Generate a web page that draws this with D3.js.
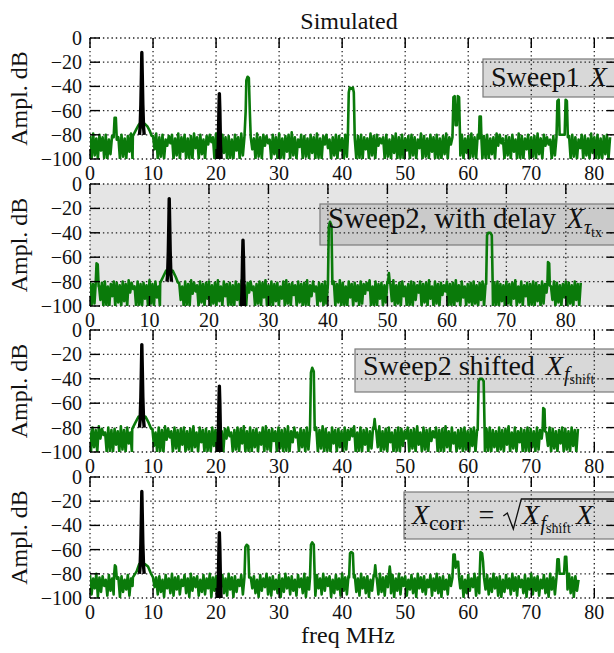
<!DOCTYPE html>
<html>
<head>
<meta charset="utf-8">
<script src="https://cdn.jsdelivr.net/npm/d3@7"></script>
<style>
  html, body { margin: 0; padding: 0; background: #fff; }
  svg { display: block; }
  text { font-family: "Liberation Serif", "DejaVu Serif", serif; fill: #111; }
</style>
</head>
<body>
<svg id="chart" width="614" height="653"></svg>
<script>
// ---------------- DATA ----------------
const titleText = "Simulated";
const xLabelText = "freq MHz";
const yLabelText = "Ampl. dB";
const xTickValues = [0, 10, 20, 30, 40, 50, 60, 70, 80];
const yTickValues = [0, -20, -40, -60, -80, -100];
const noiseStepMHz = 0.25;
const shiftMHz = 5.1; // Sweep2 shifted = Sweep2 (with delay) moved down in frequency

// Noise floor samples (dB), every 0.25 MHz from 0 MHz
const noiseSweep1 = [
 -81,-100,-79,-97,-83,-100,-80,-93,-82,-99,-80,-100,-84,-96,-81,-100,-79,-88,-82,-100,
 -80,-98,-83,-100,-81,-94,-79,-100,-84,-99,-80,-100,-82,-95,-81,-100,-80,-97,-83,-100,
 -81,-92,-79,-100,-82,-98,-80,-100,-84,-89,-81,-87,-80,-100,-83,-97,-79,-100,-82,-94,
 -80,-100,-83,-99,-81,-100,-79,-91,-82,-100,-80,-96,-84,-100,-81,-88,-80,-86,-82,-100,
 -79,-98,-83,-100,-80,-95,-82,-100,-81,-99,-84,-100,-80,-93,-82,-100,-79,-97,-83,-100,
 -81,-100,-80,-92,-83,-100,-79,-98,-82,-100,-80,-89,-81,-87,-84,-100,-80,-96,-82,-100,
 -79,-99,-83,-100,-81,-94,-80,-100,-78,-97,-82,-100,-84,-90,-80,-100,-81,-98,-83,-100,
 -80,-95,-82,-100,-79,-99,-83,-100,-81,-88,-80,-91,-84,-100,-82,-97,-80,-100,-81,-93,
 -83,-100,-80,-98,-82,-100,-79,-96,-84,-100,-81,-99,-80,-100,-82,-92,-83,-100,-79,-97,
 -81,-100,-80,-89,-83,-87,-82,-100,-80,-98,-84,-100,-81,-95,-79,-100,-82,-99,-80,-100,
 -83,-93,-81,-100,-80,-97,-82,-100,-84,-91,-79,-100,-81,-98,-83,-100,-80,-94,-82,-100,
 -80,-99,-83,-100,-81,-96,-79,-100,-82,-88,-80,-90,-84,-100,-81,-97,-80,-100,-83,-95,
 -81,-100,-79,-98,-82,-100,-80,-93,-84,-100,-81,-99,-80,-100,-83,-96,-82,-100,-79,-89,
 -80,-87,-83,-100,-81,-97,-82,-100,-80,-94,-84,-100,-79,-99,-81,-100,-83,-92,-80,-100,
 -82,-98,-81,-100,-79,-96,-83,-100,-80,-89,-82,-88,-84,-100,-81,-97,-80,-100,-82,-99,
 -79,-100,-83,-94,-81,-100,-80,-98,-82,-100,-84,-91,-80,-100,-81,-97,-83,-100,-79,-95,
 -82,-100,-80,-99,-83,-100,-81,-96,-80,-100,-82
];
const noiseSweep2 = [
 -80,-100,-82,-98,-79,-100,-83,-95,-81,-100,-80,-99,-84,-100,-82,-92,-80,-100,-81,-97,
 -83,-100,-80,-96,-82,-100,-79,-89,-81,-86,-84,-100,-80,-99,-82,-100,-81,-94,-83,-100,
 -79,-98,-82,-100,-80,-93,-84,-100,-81,-97,-80,-100,-83,-91,-79,-100,-82,-98,-80,-100,
 -81,-95,-84,-100,-80,-99,-82,-100,-79,-90,-81,-88,-83,-100,-80,-97,-82,-100,-81,-94,
 -80,-100,-83,-98,-81,-100,-79,-96,-84,-100,-80,-92,-82,-100,-81,-99,-83,-100,-80,-95,
 -82,-100,-79,-97,-83,-100,-81,-89,-80,-87,-84,-100,-82,-98,-80,-100,-81,-93,-79,-100,
 -83,-99,-80,-100,-82,-96,-81,-100,-84,-94,-80,-100,-79,-98,-82,-100,-81,-91,-83,-100,
 -80,-97,-82,-100,-81,-99,-79,-100,-83,-92,-80,-88,-84,-100,-81,-96,-82,-100,-80,-98,
 -81,-100,-83,-95,-80,-100,-82,-97,-79,-100,-81,-99,-84,-100,-80,-93,-82,-100,-81,-96,
 -83,-100,-80,-98,-82,-90,-81,-87,-79,-100,-84,-99,-80,-100,-82,-94,-81,-100,-83,-97,
 -80,-100,-82,-96,-79,-100,-83,-98,-81,-100,-80,-92,-84,-100,-82,-99,-80,-100,-81,-95,
 -83,-89,-80,-100,-82,-97,-81,-100,-79,-94,-84,-100,-80,-98,-82,-100,-81,-91,-83,-88,
 -80,-100,-82,-99,-81,-100,-79,-96,-83,-100,-80,-93,-84,-100,-82,-97,-81,-100,-80,-98,
 -83,-100,-81,-95,-80,-100,-82,-90,-79,-87,-84,-100,-81,-99,-80,-100,-82,-96,-83,-100,
 -80,-98,-82,-100,-81,-94,-79,-100,-84,-97,-80,-100,-83,-92,-81,-100,-82,-99,-80,-100,
 -81,-96,-83,-100,-80,-98,-82,-89,-79,-100,-84,-95,-80,-100,-81,-97,-83,-100,-82,-93,
 -80,-100,-81,-98,-83,-100,-80,-95,-82,-100,-81
];
const noiseCorr = [
 -81,-97,-84,-92,-80,-99,-83,-95,-82,-90,-85,-98,-81,-94,-84,-97,-80,-91,-83,-99,
 -82,-95,-85,-93,-81,-98,-84,-90,-80,-96,-83,-99,-82,-92,-85,-97,-81,-94,-84,-98,
 -80,-91,-83,-97,-82,-95,-85,-99,-81,-92,-84,-96,-80,-98,-83,-93,-82,-97,-85,-90,
 -81,-96,-84,-99,-80,-94,-83,-91,-82,-98,-85,-95,-81,-97,-84,-92,-80,-99,-83,-94,
 -82,-97,-85,-91,-81,-96,-84,-98,-80,-93,-83,-99,-82,-95,-85,-90,-81,-97,-84,-94,
 -80,-98,-83,-92,-82,-96,-85,-99,-81,-94,-84,-91,-80,-97,-83,-98,-82,-93,-85,-96,
 -81,-99,-84,-95,-80,-92,-83,-97,-82,-94,-85,-98,-81,-91,-84,-96,-80,-99,-83,-93,
 -82,-95,-85,-98,-81,-92,-84,-97,-80,-94,-83,-90,-82,-99,-85,-96,-81,-93,-84,-98,
 -80,-94,-83,-97,-82,-91,-85,-99,-81,-95,-84,-98,-80,-92,-83,-96,-82,-99,-85,-94,
 -81,-92,-84,-97,-80,-95,-83,-98,-82,-91,-85,-96,-81,-99,-84,-94,-80,-97,-83,-90,
 -82,-98,-85,-93,-81,-96,-84,-99,-80,-92,-83,-95,-82,-97,-85,-91,-81,-98,-84,-94,
 -80,-96,-83,-99,-82,-93,-85,-97,-81,-90,-84,-98,-80,-95,-83,-92,-82,-99,-85,-96,
 -81,-94,-84,-91,-80,-98,-83,-96,-82,-99,-85,-93,-81,-97,-84,-95,-80,-92,-83,-98,
 -82,-99,-85,-95,-81,-92,-84,-97,-80,-94,-83,-98,-82,-91,-85,-96,-81,-99,-84,-93,
 -80,-97,-83,-94,-82,-98,-85,-92,-81,-96,-84,-99,-80,-93,-83,-97,-82,-95,-85,-91,
 -81,-98,-84,-93,-80,-96,-83,-99,-82,-94,-85
];

// Spectral lines on the green traces: [freq MHz, dB] points
const linesSweep1 = [
 [[3.75,-82],[3.9,-66],[4.1,-66],[4.25,-84]],
 [[6.8,-81],[7.3,-76],[7.7,-72],[8.0,-70],[8.3,-74],[8.7,-71],[9.1,-73],[9.5,-77],[9.8,-81]],
 [[24.5,-82],[24.7,-60],[24.8,-35],[25.0,-32],[25.2,-33],[25.35,-60],[25.5,-82]],
 [[40.9,-83],[41.05,-45],[41.2,-41],[41.45,-42],[41.7,-41],[41.85,-45],[42.0,-83]],
 [[57.5,-82],[57.65,-49],[57.85,-48],[58.0,-72],[58.2,-72],[58.35,-48],[58.55,-49],[58.7,-82]],
 [[61.7,-83],[61.8,-65],[62.0,-65],[62.1,-84]],
 [[74.0,-82],[74.15,-52],[74.35,-51],[74.5,-80],[75.3,-80],[75.45,-51],[75.65,-52],[75.8,-82]]
];
const linesSweep2 = [
 [[0.95,-82],[1.1,-65],[1.3,-66],[1.45,-84]],
 [[11.8,-81],[12.3,-76],[12.8,-71],[13.1,-72],[13.5,-73],[13.9,-71],[14.4,-76],[14.8,-81]],
 [[40.0,-82],[40.15,-35],[40.35,-31],[40.6,-34],[40.75,-82]],
 [[50.1,-81],[50.25,-73],[50.4,-81]],
 [[66.6,-82],[66.75,-42],[66.95,-40],[67.3,-40],[67.55,-42],[67.7,-82]],
 [[76.9,-82],[77.0,-64],[77.2,-65],[77.3,-83]]
];
const linesCorr = [
 [[3.8,-83],[3.95,-73],[4.1,-74],[4.25,-84]],
 [[6.8,-83],[7.4,-78],[7.8,-72],[8.3,-73],[8.7,-72],[9.2,-74],[9.6,-79],[10.0,-83]],
 [[24.5,-83],[24.65,-58],[24.85,-56],[25.1,-57],[25.25,-83]],
 [[34.9,-83],[35.05,-56],[35.25,-54],[35.5,-56],[35.65,-83]],
 [[41.1,-83],[41.25,-63],[41.45,-62],[41.7,-63],[41.85,-83]],
 [[45.1,-82],[45.25,-73],[45.4,-82]],
 [[47.4,-82],[47.55,-74],[47.7,-82]],
 [[57.5,-83],[57.65,-64],[57.85,-64],[58.0,-75],[58.2,-70],[58.4,-70],[58.55,-83]],
 [[61.8,-83],[61.95,-62],[62.2,-63],[62.35,-70],[62.5,-83]],
 [[74.0,-83],[74.15,-68],[74.35,-68],[74.5,-80],[75.2,-80],[75.35,-66],[75.55,-66],[75.7,-83]]
];

// Black reference tones
const toneRef = [
 [[7.85,-80],[7.95,-74],[8.07,-55],[8.16,-30],[8.22,-12],[8.29,-30],[8.38,-55],[8.5,-74],[8.6,-80]],
 [[20.25,-101],[20.35,-88],[20.45,-60],[20.52,-46],[20.6,-60],[20.7,-88],[20.8,-101]]
];
const toneDelayed = [
 [[12.95,-80],[13.05,-74],[13.17,-55],[13.26,-30],[13.32,-12],[13.39,-30],[13.48,-55],[13.6,-74],[13.7,-80]],
 [[25.45,-101],[25.55,-88],[25.65,-60],[25.72,-46],[25.8,-60],[25.9,-88],[26.0,-101]]
];

// ---------------- LAYOUT ----------------
const W = 614, H = 653;
const left = 90, right = 617;
const panels = [
  { top: 38,  bottom: 159, xmax: 83.6, bg: null,      legend: { x: 483, y: 59,  h: 38, tx: 491, ty: 86 } },
  { top: 184, bottom: 306, xmax: 88.6, bg: "#e5e5e5", legend: { x: 320, y: 204, h: 41, tx: 328, ty: 228 } },
  { top: 330, bottom: 452, xmax: 83.6, bg: null,      legend: { x: 355, y: 349, h: 43, tx: 363, ty: 375 } },
  { top: 477, bottom: 598, xmax: 83.6, bg: null,      legend: { x: 404, y: 492, h: 47, tx: 412, ty: 524 } }
];
const GREEN = "#0a7a0a";

function buildSeries(noise, lines) {
  let pts = noise.map((v, i) => [i * noiseStepMHz, v]);
  lines.forEach(l => {
    const f0 = l[0][0], f1 = l[l.length - 1][0];
    pts = pts.filter(p => p[0] < f0 || p[0] > f1).concat(l);
  });
  return pts.sort((a, b) => a[0] - b[0]);
}
const green1 = buildSeries(noiseSweep1, linesSweep1);
const green2 = buildSeries(noiseSweep2, linesSweep2);
const green3 = green2.map(p => [p[0] - shiftMHz, p[1]]).filter(p => p[0] >= -0.6);
const green4 = buildSeries(noiseCorr, linesCorr);
const greens = [green1, green2, green3, green4];
const blacks = [toneRef, toneDelayed, toneRef, toneRef];

const svg = d3.select("#chart");
svg.append("rect").attr("width", W).attr("height", H).attr("fill", "#fff");
const defs = svg.append("defs");

function italic(t, s, size, dy) {
  const ts = t.append("tspan").attr("font-style", "italic").text(s);
  if (size) ts.attr("font-size", size);
  if (dy) ts.attr("dy", dy);
  return ts;
}
function roman(t, s, size, dy) {
  const ts = t.append("tspan").text(s);
  if (size) ts.attr("font-size", size);
  if (dy) ts.attr("dy", dy);
  return ts;
}

panels.forEach((p, i) => {
  const x = d3.scaleLinear().domain([0, p.xmax]).range([left, right]);
  const y = d3.scaleLinear().domain([-100, 0]).range([p.bottom, p.top]);
  const g = svg.append("g");
  const clipId = "clip" + i;
  defs.append("clipPath").attr("id", clipId).append("rect")
    .attr("x", left).attr("y", p.top).attr("width", right - left).attr("height", p.bottom - p.top);

  if (p.bg) g.append("rect").attr("x", left).attr("y", p.top).attr("width", right - left)
      .attr("height", p.bottom - p.top).attr("fill", p.bg);

  // legend box (semi transparent)
  g.append("rect").attr("x", p.legend.x).attr("y", p.legend.y).attr("width", 300).attr("height", p.legend.h)
    .attr("fill", "#a8a8a8").attr("fill-opacity", 0.45).attr("stroke", "#7a7a7a").attr("stroke-width", 1.2);

  // grid
  const grid = g.append("g").attr("stroke", "#222").attr("stroke-width", 1.3).attr("stroke-dasharray", "1.4,2.9");
  xTickValues.forEach(v => grid.append("line").attr("x1", x(v)).attr("x2", x(v)).attr("y1", p.top).attr("y2", p.bottom));
  yTickValues.forEach(v => grid.append("line").attr("x1", left).attr("x2", right).attr("y1", y(v)).attr("y2", y(v)));

  // data
  const line = d3.line().x(d => x(d[0])).y(d => y(d[1]));
  const data = g.append("g").attr("clip-path", `url(#${clipId})`);
  data.append("path").attr("d", line(greens[i])).attr("fill", "none").attr("stroke", GREEN)
    .attr("stroke-width", 2.6).attr("stroke-linejoin", "round");
  blacks[i].forEach(t => data.append("path").attr("d", line(t)).attr("fill", "none")
    .attr("stroke", "#000").attr("stroke-width", 3.4).attr("stroke-linejoin", "round"));

  // ticks (inward, all sides)
  const tk = g.append("g").attr("stroke", "#000").attr("stroke-width", 1.4);
  const L = 10;
  yTickValues.forEach(v => {
    tk.append("line").attr("x1", left).attr("x2", left + L).attr("y1", y(v)).attr("y2", y(v));
    tk.append("line").attr("x1", right - L).attr("x2", right).attr("y1", y(v)).attr("y2", y(v));
  });
  xTickValues.forEach(v => {
    tk.append("line").attr("x1", x(v)).attr("x2", x(v)).attr("y1", p.top).attr("y2", p.top + L);
    tk.append("line").attr("x1", x(v)).attr("x2", x(v)).attr("y1", p.bottom - L).attr("y2", p.bottom);
  });

  // tick labels
  yTickValues.forEach(v => g.append("text").attr("x", 82).attr("y", y(v)).attr("dy", "0.35em")
    .attr("text-anchor", "end").attr("font-size", 20).text(v < 0 ? "\u2212" + Math.abs(v) : String(v)));
  xTickValues.forEach(v => g.append("text").attr("x", x(v)).attr("y", p.bottom + 21)
    .attr("text-anchor", "middle").attr("font-size", 20).text(v));

  // y label
  g.append("text").attr("transform", `translate(27,${(p.top + p.bottom) / 2}) rotate(-90)`)
    .attr("text-anchor", "middle").attr("font-size", 24).text(yLabelText);

  // legend text
  const lg = p.legend, fs = 28;
  const t = g.append("text").attr("x", lg.tx).attr("y", lg.ty).attr("font-size", fs);
  if (i === 0) {
    roman(t, "Sweep1 ");
    italic(t, "X").attr("dx", 3);
  } else if (i === 1) {
    t.attr("font-size", 29);
    roman(t, "Sweep2, with delay ");
    italic(t, "X").attr("dx", 3);
    italic(t, "\u03C4", 20, 6);
    roman(t, "tx", 14, 3);
  } else if (i === 2) {
    roman(t, "Sweep2 shifted ");
    italic(t, "X").attr("dx", 4);
    italic(t, "f", 20, 6).attr("dx", 1);
    roman(t, "shift", 14, 3);
  } else {
    italic(t, "X");
    roman(t, "corr", 22, 6);
    roman(t, "=", null, -6).attr("dx", 14);
    const w1 = t.node().getComputedTextLength();
    const rx = lg.tx + w1 + 14 + 28; // start of radicand
    const ty = lg.ty;
    // radical sign
    g.append("path")
      .attr("d", `M${rx - 19},${ty - 8} L${rx - 15},${ty - 11} L${rx - 9},${ty + 5} L${rx - 1},${ty - 25} L640,${ty - 25}`)
      .attr("fill", "none").attr("stroke", "#111").attr("stroke-width", 1.3).attr("stroke-linejoin", "miter");
    const t2 = g.append("text").attr("x", rx).attr("y", ty).attr("font-size", fs);
    italic(t2, "X");
    italic(t2, "f", 20, 6).attr("dx", 1);
    roman(t2, "shift", 14, 3);
    italic(t2, "X", fs, -9).attr("dx", 5);
  }
});

// title & x label
svg.append("text").attr("x", 349).attr("y", 29).attr("text-anchor", "middle").attr("font-size", 24).text(titleText);
svg.append("text").attr("x", 348).attr("y", 643).attr("text-anchor", "middle").attr("font-size", 24).text(xLabelText);
</script>
</body>
</html>
